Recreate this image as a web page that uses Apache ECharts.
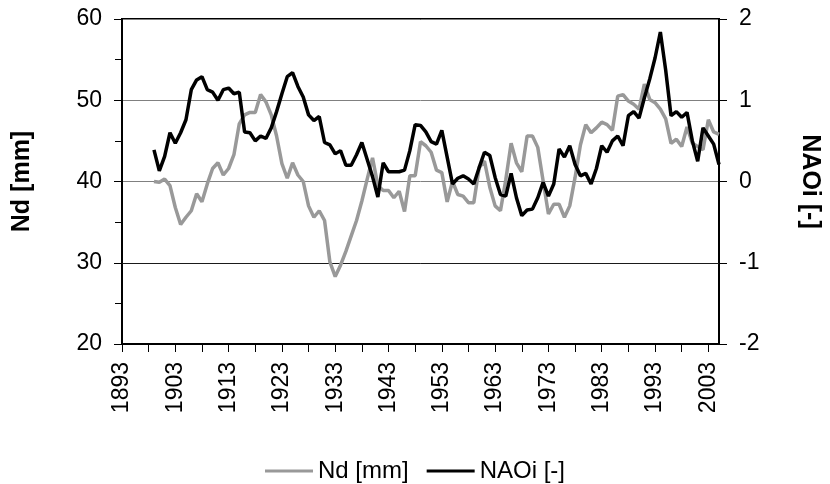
<!DOCTYPE html>
<html>
<head>
<meta charset="utf-8">
<script src="https://cdn.jsdelivr.net/npm/echarts@6/dist/echarts.min.js"></script>
<style>
html,body{margin:0;padding:0;background:#fff;}
#chart{width:830px;height:484px;}
</style>
</head>
<body>
<div id="chart"></div>
<script>
// Category years on the x axis
const firstYear = 1893;
const lastYear = 2005;
// Data start year
const dataStartYear = 1899;

// Nd [mm] (left axis), 1899..2005
const ndValues = [
  40.0, 39.9, 40.3, 39.5, 36.8, 34.7, 35.6, 36.4, 38.5, 37.5,
  39.7, 41.6, 42.3, 40.8, 41.6, 43.3, 47.1, 48.2, 48.5, 48.5,
  50.7, 49.8, 48.2, 45.6, 42.2, 40.4, 42.3, 40.8, 40.0, 37.0,
  35.6, 36.4, 35.2, 30.1, 28.3, 29.7, 31.4, 33.3, 35.2, 37.6,
  40.3, 42.9, 39.5, 38.9, 38.9, 38.0, 38.8, 36.3, 40.7, 40.7,
  44.9, 44.4, 43.6, 41.4, 41.1, 37.5, 40.0, 38.4, 38.2, 37.4,
  37.4, 41.7, 42.5, 39.3, 37.0, 36.4, 40.2, 44.7, 42.3, 41.2,
  45.6, 45.6, 44.2, 40.1, 36.0, 37.2, 37.2, 35.6, 37.0, 40.5,
  44.5, 47.0, 46.0, 46.6, 47.3, 47.0, 46.3, 50.5, 50.7, 49.9,
  49.5, 48.9, 52.0, 50.1, 49.7, 48.9, 47.7, 44.7, 45.2, 44.3,
  46.7, 44.7, 44.3, 43.9, 47.6, 46.1, 45.8
];

// NAOi [-] (right axis), 1899..2005
const naoValues = [
  0.39, 0.13, 0.31, 0.60, 0.47, 0.60, 0.76, 1.13, 1.25, 1.29,
  1.13, 1.10, 1.00, 1.13, 1.15, 1.08, 1.10, 0.61, 0.60, 0.50,
  0.56, 0.53, 0.66, 0.86, 1.08, 1.29, 1.34, 1.17, 1.04, 0.82,
  0.75, 0.80, 0.48, 0.45, 0.34, 0.38, 0.20, 0.20, 0.33, 0.48,
  0.27, 0.06, -0.19, 0.23, 0.12, 0.12, 0.12, 0.14, 0.38, 0.70,
  0.69, 0.61, 0.49, 0.46, 0.63, 0.30, -0.03, 0.04, 0.07, 0.03,
  -0.03, 0.17, 0.36, 0.32, 0.05, -0.16, -0.18, 0.10, -0.20, -0.42,
  -0.35, -0.34, -0.20, -0.01, -0.18, -0.03, 0.40, 0.30, 0.44, 0.21,
  0.07, 0.10, -0.03, 0.16, 0.44, 0.36, 0.50, 0.56, 0.44, 0.81,
  0.86, 0.78, 1.03, 1.26, 1.52, 1.84, 1.37, 0.81, 0.86, 0.79,
  0.85, 0.50, 0.25, 0.66, 0.56, 0.46, 0.21
];

const seriesNames = ['Nd [mm]', 'NAOi [-]'];
const leftAxisName = 'Nd [mm]';
const rightAxisName = 'NAOi [-]';
const darkGridValue = 30;

const years = [];
for (let y = firstYear; y <= lastYear; y++) years.push(String(y));
const pad = dataStartYear - firstYear;
const padNulls = new Array(pad).fill(null);
const ndData = padNulls.concat(ndValues);
const naoData = padNulls.concat(naoValues);

const FONT = '"Liberation Sans", Arial, Helvetica, sans-serif';

const chart = echarts.init(document.getElementById('chart'), null, {renderer: 'canvas'});
chart.setOption({
  animation: false,
  backgroundColor: '#ffffff',
  textStyle: {fontFamily: FONT, color: '#000'},
  grid: {
    left: 122, right: 100, top: 19, bottom: 140,
    show: true, borderColor: '#000', borderWidth: 2, backgroundColor: 'transparent'
  },
  legend: {
    data: seriesNames,
    left: 'center',
    top: 454,
    icon: 'rect',
    itemWidth: 48,
    itemHeight: 3,
    itemGap: 18,
    textStyle: {fontFamily: FONT, fontSize: 24, color: '#000'}
  },
  xAxis: {
    type: 'category',
    data: years,
    boundaryGap: false,
    axisLine: {show: true, onZero: false, lineStyle: {color: '#000', width: 2}},
    axisTick: {
      show: true, length: 8, lineStyle: {color: '#000', width: 1},
      interval: function (idx) { return idx % 5 === 0; }
    },
    axisLabel: {
      rotate: 90, margin: 18, fontSize: 23, color: '#000', fontFamily: FONT,
      interval: function (idx) { return idx % 10 === 0; }
    },
    splitLine: {show: false}
  },
  yAxis: [
    {
      type: 'value', min: 20, max: 60, interval: 10, position: 'left',
      name: leftAxisName, nameLocation: 'middle', nameGap: 87, nameRotate: 90,
      nameTextStyle: {fontFamily: FONT, fontSize: 25, fontWeight: 'bold', color: '#000'},
      axisLine: {show: true, onZero: false, lineStyle: {color: '#000', width: 2}},
      axisTick: {show: true, length: 8, lineStyle: {color: '#000', width: 1}},
      minorTick: {show: true, splitNumber: 2, length: 7, lineStyle: {color: '#000', width: 1}},
      axisLabel: {margin: 20, fontSize: 23, color: '#000', fontFamily: FONT},
      splitLine: {show: true, lineStyle: {color: '#808080', width: 1}}
    },
    {
      type: 'value', min: -2, max: 2, interval: 1, position: 'right',
      name: rightAxisName, nameLocation: 'middle', nameGap: 78, nameRotate: -90,
      nameTextStyle: {fontFamily: FONT, fontSize: 25, fontWeight: 'bold', color: '#000'},
      axisLine: {show: true, onZero: false, lineStyle: {color: '#000', width: 2}},
      axisTick: {show: true, length: 8, lineStyle: {color: '#000', width: 1}},
      axisLabel: {margin: 20, fontSize: 23, color: '#000', fontFamily: FONT},
      splitLine: {show: false}
    }
  ],
  series: [
    {
      name: seriesNames[0], type: 'line', yAxisIndex: 0, data: ndData,
      symbol: 'none', showSymbol: false, connectNulls: false, z: 2,
      lineStyle: {color: '#999999', width: 3.5}, itemStyle: {color: '#999999'},
      markLine: {
        silent: true, symbol: 'none', label: {show: false}, z: 1,
        lineStyle: {color: '#1a1a1a', width: 1, type: 'solid'},
        data: [{yAxis: darkGridValue}]
      }
    },
    {
      name: seriesNames[1], type: 'line', yAxisIndex: 1, data: naoData,
      symbol: 'none', showSymbol: false, connectNulls: false, z: 3,
      lineStyle: {color: '#000000', width: 3.5}, itemStyle: {color: '#000000'}
    }
  ]
});
</script>
</body>
</html>
